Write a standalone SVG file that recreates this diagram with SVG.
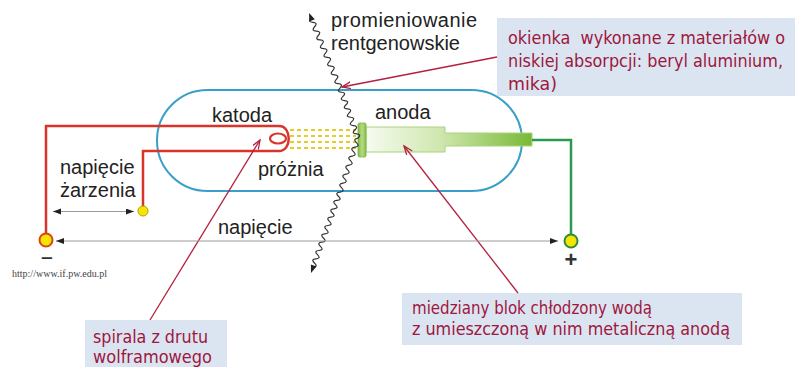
<svg xmlns="http://www.w3.org/2000/svg" width="795" height="367" viewBox="0 0 795 367">
  <style>
    .lbl { font-family: "Liberation Sans", Arial, sans-serif; font-size: 20px; fill: #222; }
    .note { font-family: "DejaVu Sans", "Liberation Sans", sans-serif; font-stretch: condensed; font-size: 18px; fill: #9e1740; }
    .box { fill: #dbe5f1; }
    .lead { stroke: #b3213f; stroke-width: 1.3; fill: none; marker-end: url(#leadHead); }
    .dim { stroke: #9a9a9a; stroke-width: 1; marker-start: url(#dimHead); marker-end: url(#dimHead); }
    .beam { stroke: #e4cc2a; stroke-width: 2; stroke-dasharray: 4 3; }
    .terminal { fill: #f4e600; stroke-width: 2; }
    .sign { font-family: "Liberation Sans", Arial, sans-serif; font-weight: bold; fill: #333; }
  </style>
  <defs>
    <linearGradient id="anodeFill" gradientUnits="userSpaceOnUse" x1="366" y1="0" x2="532" y2="0">
      <stop offset="0" stop-color="#f6fbf0"/>
      <stop offset="0.45" stop-color="#cfe7ae"/>
      <stop offset="1" stop-color="#78b935"/>
    </linearGradient>
    <linearGradient id="plateFill" x1="0" y1="0" x2="1" y2="0">
      <stop offset="0" stop-color="#7fb944"/>
      <stop offset="0.5" stop-color="#b5dc85"/>
      <stop offset="1" stop-color="#86c04a"/>
    </linearGradient>
    <marker id="dimHead" markerUnits="userSpaceOnUse" markerWidth="9" markerHeight="7" refX="8" refY="3" orient="auto-start-reverse">
      <path d="M0,0 L8,3 L0,6 Z" fill="#222"/>
    </marker>
    <marker id="leadHead" markerUnits="userSpaceOnUse" markerWidth="11" markerHeight="9" refX="9" refY="3.5" orient="auto">
      <path d="M0,0 L9,3.5 L0,7" fill="none" stroke="#b3213f" stroke-width="1.3"/>
    </marker>
  </defs>

  <rect width="795" height="367" fill="#fff"/>

  <!-- glass envelope -->
  <g id="tube">
    <rect x="157" y="90" width="365" height="101" rx="50.5" fill="none" stroke="#3a9fc8" stroke-width="2"/>
  </g>

  <!-- heated filament and its supply wires -->
  <g id="cathode">
    <path d="M46,240 V126 H279 C292,126 292,151 279,151 H143 V211" fill="none" stroke="#d8352a" stroke-width="2.5"/>
    <ellipse cx="278" cy="138.5" rx="8" ry="5" fill="none" stroke="#d8352a" stroke-width="2.2"/>
    <circle class="terminal" cx="46" cy="240" r="6.5" stroke="#e0401a"/>
    <circle cx="143" cy="211" r="5" fill="#f4e600" stroke="#b8a000" stroke-width="1"/>
  </g>

  <!-- electron beam -->
  <g id="beam">
    <line class="beam" x1="290" y1="130" x2="356" y2="130"/>
    <line class="beam" x1="290" y1="136" x2="356" y2="136"/>
    <line class="beam" x1="290" y1="142" x2="356" y2="142"/>
    <line class="beam" x1="290" y1="148" x2="356" y2="148"/>
  </g>

  <!-- anode block with target plate -->
  <g id="anode">
    <path d="M366,127 H445 V133 H532 V146 H445 V152 H366 Z" fill="url(#anodeFill)" stroke="#a9d27f" stroke-width="1"/>
    <rect x="358" y="123" width="8" height="34" rx="1.5" fill="url(#plateFill)" stroke="#78b040" stroke-width="0.8"/>
    <path d="M532,140 H571 V234" fill="none" stroke="#2b9a50" stroke-width="2.5"/>
    <circle class="terminal" cx="571" cy="241" r="6.5" stroke="#2e8b3e"/>
  </g>

  <!-- X-ray path -->
  <g id="xray">
    <path d="M311,18 q-3.71,4.10 1.81,4.38 t1.81,4.38 t1.81,4.38 t1.81,4.38 t1.81,4.38 t1.81,4.38 t1.81,4.38 t1.81,4.38 t1.81,4.38 t1.81,4.38 t1.81,4.38 t1.81,4.38 t1.81,4.38 t1.81,4.38 t1.81,4.38 t1.81,4.38
             q-3.96,3.78 1.5,4.17 t1.5,4.17 t1.5,4.17 t1.5,4.17 t1.5,4.17 t1.5,4.17 t1.5,4.17 t1.5,4.17 t1.5,4.17 t1.5,4.17 t1.5,4.17 t1.5,4.17
             q-5.49,0.67 -1.5,4.5 t-1.5,4.5 t-1.5,4.5 t-1.5,4.5 t-1.5,4.5 t-1.5,4.5 t-1.5,4.5 t-1.5,4.5 t-1.5,4.5 t-1.5,4.5 t-1.5,4.5 t-1.5,4.5
             q-5.45,0.39 -1.5,4.17 t-1.5,4.17 t-1.5,4.17 t-1.5,4.17 t-1.5,4.17 t-1.5,4.17 t-1.5,4.17 t-1.5,4.17 t-1.5,4.17 t-1.5,4.17 t-1.5,4.17 t-1.5,4.17 t-1.5,4.17 t-1.5,4.17 t-1.5,4.17 t-1.5,4.17 t-1.5,4.17 t-1.5,4.17"
          fill="none" stroke="#333" stroke-width="1.2"/>
    <polygon points="309,13 314.8,19.2 309.3,21.5" fill="#222"/>
    <polygon points="311,273 316.5,266.5 310.9,264.5" fill="#222"/>
  </g>

  <!-- labels -->
  <g id="labels">
    <text class="lbl" x="331" y="27" textLength="146">promieniowanie</text>
    <text class="lbl" x="331" y="50">rentgenowskie</text>
    <text class="lbl" x="212" y="122">katoda</text>
    <text class="lbl" x="375" y="119">anoda</text>
    <text class="lbl" x="258" y="176">próżnia</text>
    <text class="lbl" x="60" y="174">napięcie</text>
    <text class="lbl" x="60" y="197">żarzenia</text>
    <text class="lbl" x="218" y="234">napięcie</text>
    <text class="sign" x="41" y="263" font-size="15" textLength="12" lengthAdjust="spacingAndGlyphs">−</text>
    <text class="sign" x="571" y="267" text-anchor="middle" font-size="22">+</text>
    <text x="12" y="277" font-family="Liberation Serif, Times New Roman, serif" font-size="10" fill="#444" textLength="95">http://www.if.pw.edu.pl</text>
  </g>

  <!-- callouts -->
  <g id="callout-window">
    <rect class="box" x="497" y="18" width="298" height="78"/>
    <text class="note" x="508" y="44" textLength="277" lengthAdjust="spacingAndGlyphs" xml:space="preserve">okienka  wykonane z materiałów o</text>
    <text class="note" x="508" y="67" textLength="275" lengthAdjust="spacingAndGlyphs">niskiej absorpcji: beryl aluminium,</text>
    <text class="note" x="508" y="90" textLength="49" lengthAdjust="spacingAndGlyphs">mika)</text>
  </g>
  <g id="callout-block">
    <rect class="box" x="402" y="293" width="340" height="52"/>
    <text class="note" x="412" y="314" textLength="240" lengthAdjust="spacingAndGlyphs">miedziany blok chłodzony wodą</text>
    <text class="note" x="412" y="335" textLength="318" lengthAdjust="spacingAndGlyphs">z umieszczoną w nim metaliczną anodą</text>
  </g>
  <g id="callout-filament">
    <rect class="box" x="85" y="320" width="142" height="47"/>
    <text class="note" x="93" y="343" textLength="115" lengthAdjust="spacingAndGlyphs">spirala z drutu</text>
    <text class="note" x="93" y="363" textLength="119" lengthAdjust="spacingAndGlyphs">wolframowego</text>
  </g>

  <!-- connectors: leader lines and voltage dimension arrows -->
  <g id="connectors">
    <line class="lead" x1="497" y1="57" x2="342" y2="87"/>
    <line class="lead" x1="150" y1="320" x2="260" y2="140"/>
    <line class="lead" x1="518" y1="293" x2="404" y2="146"/>
    <line class="dim" x1="53" y1="211.5" x2="134" y2="211.5"/>
    <line class="dim" x1="56" y1="241" x2="558" y2="241"/>
  </g>
</svg>
